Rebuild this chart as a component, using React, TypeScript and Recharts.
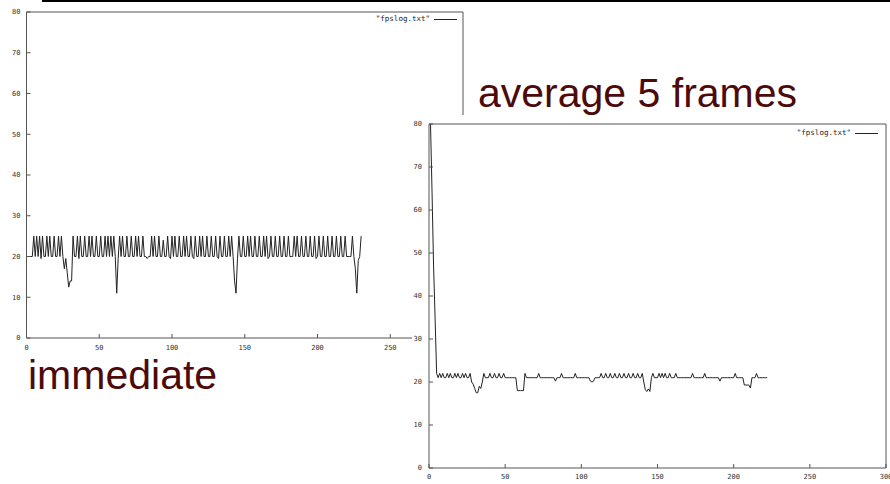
import React from 'react';
import { LineChart, Line, XAxis, YAxis, Legend } from 'recharts';

const xTicks = [0, 50, 100, 150, 200, 250, 300];
const yTicks = [0, 10, 20, 30, 40, 50, 60, 70, 80];
const seriesName = '"fpslog.txt"';

// fps of every frame, frames 0..230
const immediateFps = [
  20, 20, 20, 20, 20, 25, 20, 25, 20, 25,
  19.5, 25, 20, 20, 25, 20, 25, 20, 20, 25,
  20, 20, 25, 20, 25, 20, 17, 19.5, 16, 12.5,
  14, 14, 25, 20, 20, 25, 19.5, 25, 20, 20,
  25, 20, 20, 25, 20, 25, 20, 20, 25, 20,
  20, 25, 20, 20, 25, 20, 25, 20, 25, 20,
  25, 20, 11, 19.5, 25, 20, 25, 20, 20, 25,
  20, 20, 25, 20, 20, 25, 20, 25, 20, 20,
  25, 20, 20, 19.5, 20, 20, 25, 20, 25, 20,
  20, 25, 20, 20, 24, 20, 20, 25, 20, 19.5,
  25, 20, 25, 20, 20, 25, 20, 20, 25, 20,
  25, 20, 20, 25, 20, 19.5, 25, 20, 20, 25,
  20, 25, 20, 20, 25, 20, 20, 25, 20, 20,
  25, 20, 19.5, 25, 20, 20, 25, 20, 20, 25,
  20, 25, 20, 14, 11, 19.5, 25, 20, 20, 25,
  20, 20, 25, 20, 25, 20, 20, 25, 20, 20,
  25, 20, 20, 25, 20, 25, 19.5, 20, 25, 20,
  20, 25, 20, 20, 25, 20, 20, 25, 20, 20,
  25, 20, 20, 20, 25, 20, 25, 20, 20, 25,
  20, 20, 25, 20, 20, 25, 20, 20, 25, 19.5,
  20, 25, 20, 20, 25, 20, 20, 25, 20, 20,
  25, 20, 20, 25, 20, 20, 25, 20, 20, 25,
  20, 20, 20, 20, 25, 20, 17, 11, 19, 20,
  25,
];

// fps averaged over 5 frames, frames 1..222
const averageFps = [
  80, 64, 47, 35, 22, 21, 22, 21, 22, 21,
  21, 22, 21, 22, 21, 21, 22, 21, 22, 21,
  21, 22, 21, 22, 21, 21, 22, 20, 19.5, 18.5,
  17.5, 17.5, 19, 18.5, 20, 22, 21, 21, 21, 22,
  21, 21, 22, 21, 21, 22, 21, 21, 22, 21,
  21, 21, 21, 21, 21, 21, 21, 18, 18, 18,
  18, 18, 22, 21, 21, 21, 21, 21, 21, 21,
  21, 22, 21, 21, 21, 21, 21, 21, 21, 21,
  21, 21, 20.2, 21, 21, 21, 22, 21, 21, 21,
  21, 21, 21, 21, 21, 22, 21, 21, 21, 21,
  21, 21, 21, 21, 21, 20.2, 20, 20.2, 21, 21,
  21, 21, 22, 21, 21, 22, 21, 21, 22, 21,
  21, 22, 21, 21, 22, 21, 21, 22, 21, 21,
  22, 21, 21, 22, 21, 21, 22, 21, 21, 22,
  20, 18.2, 17.8, 18.4, 17.8, 21, 22, 21, 21, 21,
  22, 21, 22, 21, 22, 21, 21, 22, 21, 21,
  21, 22, 21, 21, 21, 21, 21, 21, 21, 21,
  21, 21, 22, 21, 21, 21, 21, 21, 21, 21,
  22, 21, 21, 21, 21, 21, 21, 21, 21, 21,
  20.2, 21, 21, 21, 21, 21, 21, 21, 21, 21,
  22, 21, 21, 21, 21, 21, 19.3, 19.3, 19.3, 19.3,
  18.6, 21, 21, 21, 22, 21, 21, 21, 21, 21,
  21, 21,
];

const immediateData = immediateFps.map((fps, i) => ({ frame: i, fps }));
const averageData = averageFps.map((fps, i) => ({ frame: i + 1, fps }));

const mono = '"DejaVu Sans Mono", monospace';
const tickFont = { fontSize: 7, fill: '#333', fontFamily: mono };
const axisColor = '#555';

const LegendKey = () => (
  <div
    style={{
      display: 'flex',
      alignItems: 'center',
      fontFamily: mono,
      fontSize: 7.5,
      lineHeight: '8px',
      color: '#222',
      whiteSpace: 'nowrap',
    }}
  >
    <span>{seriesName}</span>
    <span style={{ display: 'inline-block', width: 23, height: 1, background: '#222', marginLeft: 4 }} />
  </div>
);

type PlotProps = {
  data: { frame: number; fps: number }[];
  width: number;
  height: number;
  margin: { top: number; right: number; bottom: number; left: number };
  yAxisWidth: number;
  xAxisHeight: number;
  xLabelGap: number;
  yLabelGap: number;
  legendTop: number;
  legendRight: number;
};

function FpsPlot({ data, width, height, margin, yAxisWidth, xAxisHeight, xLabelGap, yLabelGap, legendTop, legendRight }: PlotProps) {
  return (
    <LineChart width={width} height={height} data={data} margin={margin}>
      <XAxis
        xAxisId="b"
        dataKey="frame"
        type="number"
        domain={[0, 300]}
        ticks={xTicks}
        interval={0}
        tickSize={-4}
        tickMargin={xLabelGap}
        height={xAxisHeight}
        tick={tickFont}
        stroke={axisColor}
        allowDataOverflow
      />
      <XAxis
        xAxisId="t"
        orientation="top"
        dataKey="frame"
        type="number"
        domain={[0, 300]}
        ticks={xTicks}
        interval={0}
        tickSize={-4}
        height={1}
        tick={false}
        stroke={axisColor}
        allowDataOverflow
      />
      <YAxis
        yAxisId="l"
        type="number"
        domain={[0, 80]}
        ticks={yTicks}
        interval={0}
        tickSize={-4}
        tickMargin={yLabelGap}
        width={yAxisWidth}
        tick={tickFont}
        stroke={axisColor}
        allowDataOverflow
      />
      <YAxis
        yAxisId="r"
        orientation="right"
        type="number"
        domain={[0, 80]}
        ticks={yTicks}
        interval={0}
        tickSize={-4}
        width={1}
        tick={false}
        stroke={axisColor}
        allowDataOverflow
      />
      <Legend
        layout="vertical"
        align="center"
        verticalAlign="middle"
        wrapperStyle={{ top: legendTop, right: legendRight, left: 'auto', width: 'auto' }}
        content={() => <LegendKey />}
      />
      <Line
        xAxisId="b"
        yAxisId="l"
        type="linear"
        dataKey="fps"
        stroke="#222"
        strokeWidth={1}
        dot={false}
        isAnimationActive={false}
      />
    </LineChart>
  );
}

const caption: React.CSSProperties = {
  position: 'absolute',
  fontFamily: '"Liberation Sans", Arial, sans-serif',
  fontSize: 41,
  lineHeight: '41px',
  color: '#4d0a0a',
  whiteSpace: 'nowrap',
};

export default function App() {
  return (
    <div style={{ position: 'absolute', left: 0, top: 0, width: 890, height: 484, background: '#fff', overflow: 'hidden' }}>
      <div style={{ position: 'absolute', left: 0, top: 0 }}>
        <FpsPlot
          data={immediateData}
          width={470}
          height={358}
          margin={{ top: 11, right: 6, bottom: 0, left: 0 }}
          yAxisWidth={26.5}
          xAxisHeight={20}
          xLabelGap={11}
          yLabelGap={10}
          legendTop={15}
          legendRight={13}
        />
      </div>
      <div style={{ ...caption, left: 28, top: 355 }}>immediate</div>
      <div style={{ ...caption, left: 478, top: 73 }}>average 5 frames</div>
      <div style={{ position: 'absolute', left: 412, top: 115, background: '#fff' }}>
        <FpsPlot
          data={averageData}
          width={478}
          height={369}
          margin={{ top: 8, right: 3, bottom: 0, left: 0 }}
          yAxisWidth={17}
          xAxisHeight={16}
          xLabelGap={10}
          yLabelGap={11}
          legendTop={14}
          legendRight={12}
        />
      </div>
      <div style={{ position: 'absolute', left: 42, top: 0, width: 848, height: 2, background: '#000' }} />
    </div>
  );
}
